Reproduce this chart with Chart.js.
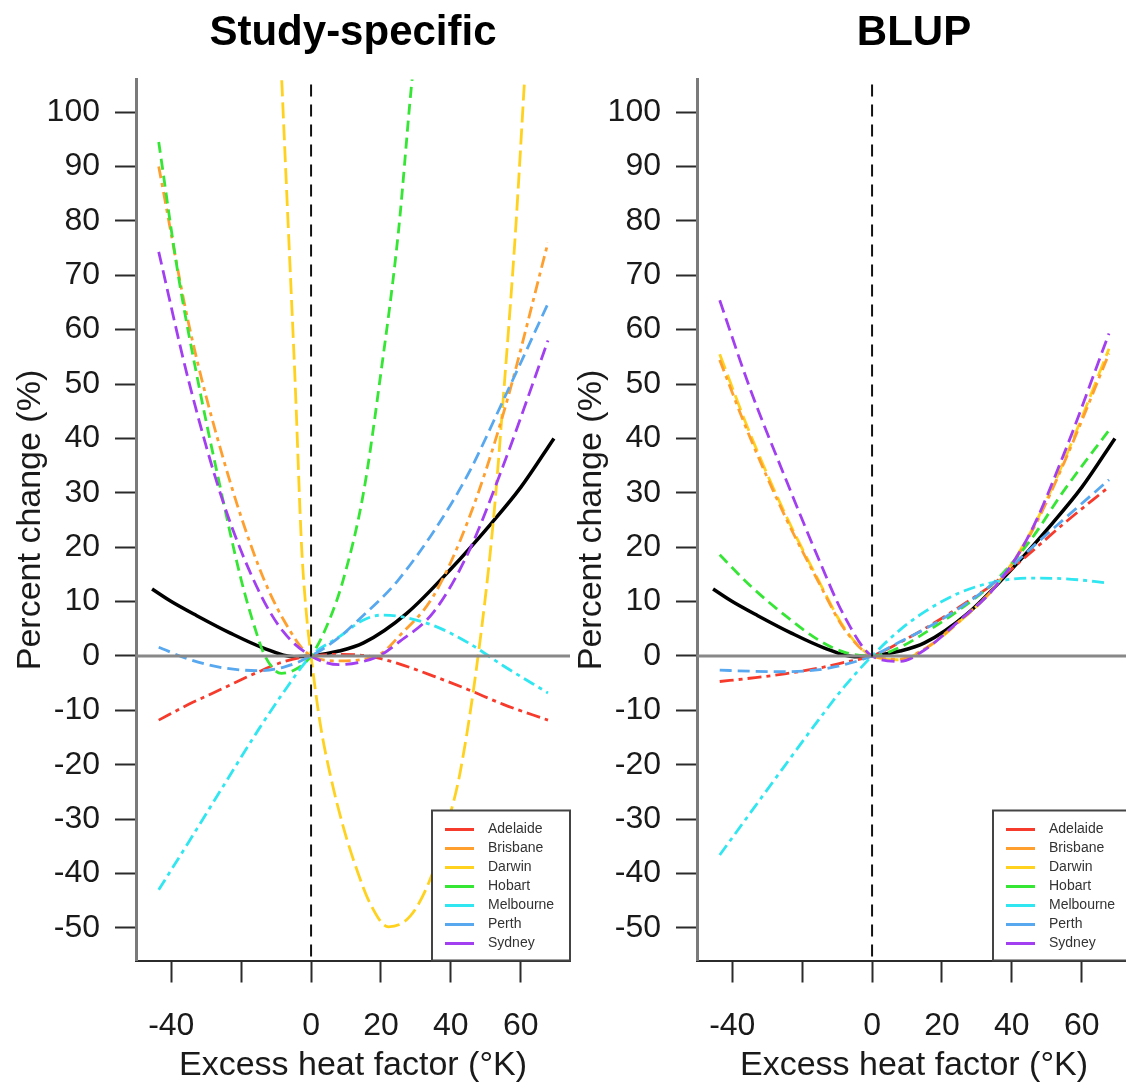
<!DOCTYPE html>
<html>
<head>
<meta charset="utf-8">
<script src="https://cdn.jsdelivr.net/npm/chart.js@4.4.1/dist/chart.umd.min.js"></script>
<style>
  html, body { margin: 0; padding: 0; background: #fff; overflow: hidden; }
  #wrap { position: relative; width: 1126px; height: 1086px; overflow: hidden; background: #fff; }
  canvas { position: absolute; top: 0; }
  #c1 { left: 0; }
  #c2 { left: 561px; }
</style>
</head>
<body>
<div id="wrap">
  <canvas id="c1" width="580" height="1086"></canvas>
  <canvas id="c2" width="580" height="1086"></canvas>
</div>
<script>
// ---------------- data ----------------
const panelTitles = ['Study-specific', 'BLUP'];
const cities = ['Adelaide', 'Brisbane', 'Darwin', 'Hobart', 'Melbourne', 'Perth', 'Sydney'];
const cityColors = ['#F63B2C', '#FF9F2E', '#FFD21F', '#35E635', '#30E6F0', '#58A8F0', '#A23FF0'];
const xTickValues = [-40, -20, 0, 20, 40, 60];
const yTickValues = [-50, -40, -30, -20, -10, 0, 10, 20, 30, 40, 50, 60, 70, 80, 90, 100];
const xLabel = 'Excess heat factor (°K)';
const yLabel = 'Percent change (%)';

// pooled curve (black, identical in both panels)
const pooledX = [-45.5, -40, -32.7, -23.1, -13.6, -5, 0, 8, 15, 27.3, 40, 51.6, 60, 69.5];
const pooledY = [12.3, 10.0, 7.4, 4.2, 1.45, -0.15, 0, 0.9, 2.4, 7.8, 16, 24.4, 31, 40];

// study-specific panel
const ssX = [-43.6, -35, -25, -15, -8, 0, 8, 15, 20, 25, 35, 45, 55, 67.8];
const ssAdelaide  = [-11.8, -8.9, -5.9, -2.9, -1.1, 0, 0.3, 0.1, -0.5, -1.4, -3.7, -6.2, -8.9, -11.8];
const ssBrisbane  = [90, 61, 36, 16.5, 6.8, 0, -0.9, -0.6, 0.4, 3.5, 11, 25, 44.5, 76];
const ssMelbourne = [-43, -34.2, -23.8, -13.5, -6.8, 0, 3.5, 6.6, 7.5, 7.3, 5.6, 2.4, -1.8, -6.8];
const ssPerth     = [1.6, -0.6, -2.2, -2.7, -2.1, 0, 3.4, 7.5, 10.5, 14, 22.8, 33.5, 47, 64.8];
const ssSydney    = [74.3, 50.5, 28, 12, 4.5, 0, -1.6, -1.0, 0.2, 2.5, 8, 19, 35, 58];
const ssDarwinX = [-9.2, -8.4, -6.5, -4.6, -2.7, -1.3, 0, 2.6, 5.4, 9.2, 13.1, 16.9, 22.1, 28.3, 34, 38.8, 42.6, 47.8, 52.1, 55.4, 58.5, 61.1, 62];
const ssDarwin  = [118, 106, 78.5, 51, 20, 7.5, 0, -12.4, -21.6, -31.4, -39.3, -45.5, -49.8, -47.9, -41.2, -31.4, -21.6, 0, 24.4, 50.7, 78, 106, 116];
const ssHobartX = [-43.6, -38, -32.2, -27, -20, -16, -13.2, -8.5, -4, 0, 4.5, 9.2, 15, 19.7, 25, 28.8, 30.5];
const ssHobart  = [94.5, 70, 50, 34, 14, 5, 0, -3.2, -2.3, 0, 5.5, 14, 30, 50.7, 78, 105.3, 115];

// BLUP panel
const blupX = [-43.6, -35, -25, -15, -8, 0, 8, 15, 25, 35, 45, 55, 67.8];
const blupAdelaide  = [-4.7, -4.1, -3.3, -2.2, -1.2, 0, 2.5, 5, 9, 13.4, 18.8, 24.4, 31.1];
const blupBrisbane  = [54.4, 40.3, 25.8, 13.2, 5, 0, -0.6, 1.3, 6.4, 12.6, 22, 35.6, 55.6];
const blupDarwin    = [55.5, 41, 26.3, 13.5, 5.2, 0, -0.7, 1.2, 6.3, 12.6, 22.3, 36, 56.5];
const blupHobart    = [18.6, 13, 7.5, 2.8, 0.7, 0, 1.6, 4.2, 8.5, 13.6, 21, 30.5, 41.5];
const blupMelbourne = [-36.6, -29, -20.2, -11.5, -5.7, 0, 4.8, 8.1, 11.6, 13.6, 14.3, 14.2, 13.4];
const blupPerth     = [-2.6, -2.8, -2.9, -2.5, -1.6, 0, 2.6, 4.9, 8.8, 13.5, 19.5, 25.2, 32.4];
const blupSydney    = [65.4, 49.3, 33, 17.4, 7.4, 0, -1, 1.1, 6.5, 12.5, 22.3, 37.3, 59.3];

// ---------------- styling ----------------
const FONT = "'Liberation Sans', Arial, Helvetica, sans-serif";
Chart.defaults.font.family = FONT;
const cityDash = [[14, 5, 4, 5], [12, 5, 4, 5], [16, 6], [11, 6], [12, 5, 4, 5], [12, 6], [13, 6]];
const cityOrder = [7, 5, 6, 4, 3, 2, 1];

const pts = (xs, ys) => xs.map((x, i) => ({ x: x, y: ys[i] }));

function buildDatasets(series) {
  const ds = [{
    label: 'Pooled', data: pts(pooledX, pooledY), borderColor: '#000', borderWidth: 3.5,
    pointRadius: 0, fill: false, cubicInterpolationMode: 'monotone', clip: 0, order: 10, hideInLegend: true
  }];
  series.forEach((s, i) => {
    ds.push({
      label: cities[i], data: pts(s[0], s[1]), borderColor: cityColors[i], borderWidth: 2.8,
      borderDash: cityDash[i], pointRadius: 0, fill: false, cubicInterpolationMode: 'monotone',
      clip: 0, order: cityOrder[i]
    });
  });
  return ds;
}

const refLines = {
  id: 'refLines',
  afterDatasetsDraw(chart) {
    const { ctx, chartArea: a, scales: { x, y } } = chart;
    ctx.save();
    ctx.beginPath(); ctx.rect(a.left, a.top, a.width, a.height); ctx.clip();
    const y0 = y.getPixelForValue(0);
    ctx.strokeStyle = '#888'; ctx.lineWidth = 3;
    ctx.beginPath(); ctx.moveTo(a.left, y0); ctx.lineTo(a.right, y0); ctx.stroke();
    const x0 = x.getPixelForValue(0);
    ctx.strokeStyle = '#111'; ctx.lineWidth = 2; ctx.setLineDash([12, 8]); ctx.lineDashOffset = -5;
    ctx.beginPath(); ctx.moveTo(x0, a.top); ctx.lineTo(x0, a.bottom); ctx.stroke();
    ctx.restore();
  }
};

const boxLegend = {
  id: 'boxLegend',
  afterDraw(chart) {
    const { ctx, chartArea: a } = chart;
    const L = a.right - 138, T = a.bottom - 150, R = a.right, B = a.bottom;
    ctx.save();
    ctx.fillStyle = '#fff';
    ctx.fillRect(L, T, R - L, B - T);
    ctx.strokeStyle = '#444'; ctx.lineWidth = 2; ctx.setLineDash([]);
    ctx.strokeRect(L, T, R - L, B - T);
    let row = 0;
    chart.data.datasets.forEach(ds => {
      if (ds.hideInLegend) return;
      const yy = T + 19 + row * 19;
      ctx.strokeStyle = ds.borderColor; ctx.lineWidth = 3;
      ctx.beginPath(); ctx.moveTo(L + 13, yy); ctx.lineTo(L + 42, yy); ctx.stroke();
      ctx.fillStyle = '#333'; ctx.font = '14px ' + FONT; ctx.textBaseline = 'middle'; ctx.textAlign = 'left';
      ctx.fillText(ds.label, L + 56, yy);
      row++;
    });
    ctx.restore();
  }
};

function makeChart(id, title, series) {
  return new Chart(document.getElementById(id), {
    type: 'line',
    data: { datasets: buildDatasets(series) },
    options: {
      responsive: false, animation: false, devicePixelRatio: 1,
      layout: { padding: { left: 0, top: 0, right: 10, bottom: 0 } },
      plugins: {
        legend: { display: false }, tooltip: { enabled: false },
        title: {
          display: true, text: title, fullSize: false, color: '#000',
          font: { size: 42, weight: 'bold', family: FONT },
          padding: { top: 7.8, bottom: 21.3 }
        }
      },
      scales: {
        x: {
          type: 'linear', min: -50.1, max: 74.1,
          afterBuildTicks: s => { s.ticks = xTickValues.map(v => ({ value: v })); },
          afterFit: s => { s.height = 125.5; },
          grid: { drawOnChartArea: false, drawTicks: true, tickLength: 22, tickColor: '#2b2b2b', tickWidth: 2 },
          border: { display: true, color: '#2b2b2b', width: 2 },
          ticks: {
            autoSkip: false, maxRotation: 0, padding: 24, color: '#1a1a1a',
            font: { size: 32, family: FONT },
            callback: v => (v === -20 ? '' : String(v))
          },
          title: { display: true, text: xLabel, color: '#1a1a1a', font: { size: 34, family: FONT }, padding: { top: 0, bottom: 0 } }
        },
        y: {
          type: 'linear', min: -56, max: 106,
          afterBuildTicks: s => { s.ticks = yTickValues.map(v => ({ value: v })); },
          afterFit: s => { s.width = 136; },
          grid: { drawOnChartArea: false, drawTicks: true, tickLength: 21, tickColor: '#2b2b2b', tickWidth: 2 },
          border: { display: true, color: '#7a7a7a', width: 3 },
          ticks: { autoSkip: false, padding: 15, color: '#1a1a1a', font: { size: 32, family: FONT }, callback: v => String(v) },
          title: { display: true, text: yLabel, color: '#1a1a1a', font: { size: 34, family: FONT }, padding: { top: 10, bottom: 0 } }
        }
      }
    },
    plugins: [refLines, boxLegend]
  });
}

makeChart('c1', panelTitles[0], [
  [ssX, ssAdelaide], [ssX, ssBrisbane], [ssDarwinX, ssDarwin], [ssHobartX, ssHobart],
  [ssX, ssMelbourne], [ssX, ssPerth], [ssX, ssSydney]
]);
makeChart('c2', panelTitles[1], [
  [blupX, blupAdelaide], [blupX, blupBrisbane], [blupX, blupDarwin], [blupX, blupHobart],
  [blupX, blupMelbourne], [blupX, blupPerth], [blupX, blupSydney]
]);
</script>
</body>
</html>
